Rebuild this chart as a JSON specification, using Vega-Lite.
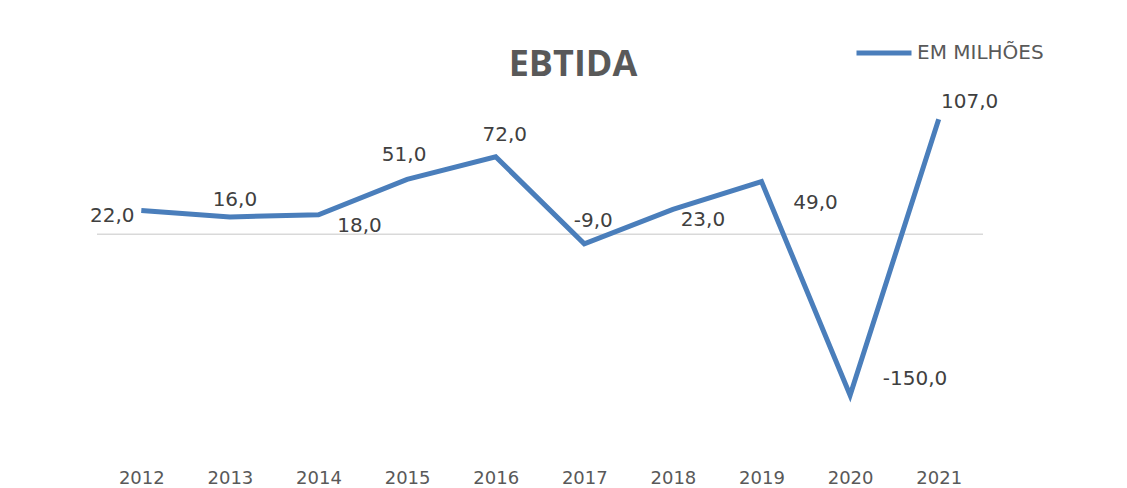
{
  "$schema": "https://vega.github.io/schema/vega-lite/v6.json",
  "autosize": {"type": "none"},
  "width": 886,
  "height": 376,
  "padding": {"left": 97, "top": 73, "right": 144, "bottom": 39},
  "background": "#ffffff",
  "config": {
    "view": {"stroke": null},
    "font": "DejaVu Sans",
    "locale": {"number": {"decimal": ",", "thousands": ".", "grouping": [3], "currency": ["R$", ""], "minus": "-"}}
  },
  "title": {
    "text": "EBTIDA",
    "font": "Open Sans",
    "fontSize": 36,
    "fontWeight": "bold",
    "color": "#595959",
    "anchor": "middle",
    "frame": "group",
    "baseline": "alphabetic",
    "offset": -85,
    "dx": 33,
    "dy": 4
  },
  "data": {
    "values": [
      {"ano": "2012", "valor": 22},
      {"ano": "2013", "valor": 16},
      {"ano": "2014", "valor": 18},
      {"ano": "2015", "valor": 51},
      {"ano": "2016", "valor": 72},
      {"ano": "2017", "valor": -9},
      {"ano": "2018", "valor": 23},
      {"ano": "2019", "valor": 49},
      {"ano": "2020", "valor": -150},
      {"ano": "2021", "valor": 107}
    ]
  },
  "encoding": {
    "x": {
      "field": "ano",
      "type": "ordinal",
      "scale": {"type": "point", "padding": 0.5},
      "axis": {
        "title": null,
        "domain": false,
        "ticks": false,
        "labelAngle": 0,
        "labelFont": "DejaVu Sans",
        "labelFontSize": 18,
        "labelColor": "#595959",
        "labelPadding": 20
      }
    },
    "y": {
      "field": "valor",
      "type": "quantitative",
      "scale": {"domain": [-200, 150], "nice": false, "zero": false},
      "axis": null
    }
  },
  "layer": [
    {
      "data": {"values": [{"zero": 0}]},
      "mark": {"type": "rule", "color": "#d9d9d9", "strokeWidth": 1.5},
      "encoding": {
        "x": null,
        "y": {"field": "zero", "type": "quantitative"}
      }
    },
    {
      "mark": {"type": "line", "strokeWidth": 5, "strokeJoin": "miter", "strokeCap": "butt"},
      "encoding": {
        "color": {
          "datum": "EM MILHÕES",
          "scale": {"range": ["#4a7ebb"]},
          "legend": {
            "title": null,
            "orient": "none",
            "legendX": 757,
            "legendY": -50,
            "padding": 0,
            "symbolType": "stroke",
            "symbolSize": 3025,
            "symbolStrokeWidth": 5,
            "labelFont": "DejaVu Sans",
            "labelFontSize": 20,
            "labelColor": "#595959",
            "labelOffset": 3
          }
        }
      }
    },
    {"transform": [{"filter": "datum.ano == '2012'"}], "mark": {"type": "text", "dx": -29, "dy": 5, "fontSize": 20, "color": "#404040"}, "encoding": {"text": {"field": "valor", "type": "quantitative", "format": ".1f"}}},
    {"transform": [{"filter": "datum.ano == '2013'"}], "mark": {"type": "text", "dx": 5, "dy": -17, "fontSize": 20, "color": "#404040"}, "encoding": {"text": {"field": "valor", "type": "quantitative", "format": ".1f"}}},
    {"transform": [{"filter": "datum.ano == '2014'"}], "mark": {"type": "text", "dx": 41, "dy": 11, "fontSize": 20, "color": "#404040"}, "encoding": {"text": {"field": "valor", "type": "quantitative", "format": ".1f"}}},
    {"transform": [{"filter": "datum.ano == '2015'"}], "mark": {"type": "text", "dx": -3, "dy": -24, "fontSize": 20, "color": "#404040"}, "encoding": {"text": {"field": "valor", "type": "quantitative", "format": ".1f"}}},
    {"transform": [{"filter": "datum.ano == '2016'"}], "mark": {"type": "text", "dx": 9, "dy": -22, "fontSize": 20, "color": "#404040"}, "encoding": {"text": {"field": "valor", "type": "quantitative", "format": ".1f"}}},
    {"transform": [{"filter": "datum.ano == '2017'"}], "mark": {"type": "text", "dx": 9, "dy": -23, "fontSize": 20, "color": "#404040"}, "encoding": {"text": {"field": "valor", "type": "quantitative", "format": ".1f"}}},
    {"transform": [{"filter": "datum.ano == '2018'"}], "mark": {"type": "text", "dx": 30, "dy": 11, "fontSize": 20, "color": "#404040"}, "encoding": {"text": {"field": "valor", "type": "quantitative", "format": ".1f"}}},
    {"transform": [{"filter": "datum.ano == '2019'"}], "mark": {"type": "text", "dx": 54, "dy": 21, "fontSize": 20, "color": "#404040"}, "encoding": {"text": {"field": "valor", "type": "quantitative", "format": ".1f"}}},
    {"transform": [{"filter": "datum.ano == '2020'"}], "mark": {"type": "text", "dx": 65, "dy": -16, "fontSize": 20, "color": "#404040"}, "encoding": {"text": {"field": "valor", "type": "quantitative", "format": ".1f"}}},
    {"transform": [{"filter": "datum.ano == '2021'"}], "mark": {"type": "text", "dx": 31, "dy": -17, "fontSize": 20, "color": "#404040"}, "encoding": {"text": {"field": "valor", "type": "quantitative", "format": ".1f"}}}
  ]
}
